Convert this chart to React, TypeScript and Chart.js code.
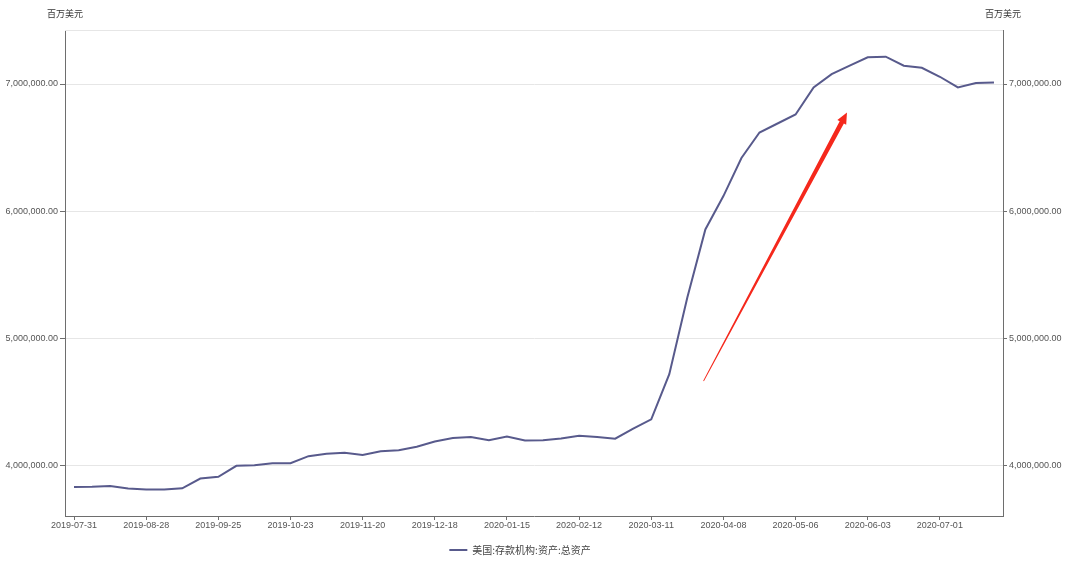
import React, { useEffect, useRef } from "react";
import { Chart, registerables } from "chart.js";

Chart.register(...registerables);

const DATES: string[] = [
  "2019-07-31", "2019-08-07", "2019-08-14", "2019-08-21", "2019-08-28",
  "2019-09-04", "2019-09-11", "2019-09-18", "2019-09-25", "2019-10-02",
  "2019-10-09", "2019-10-16", "2019-10-23", "2019-10-30", "2019-11-06",
  "2019-11-13", "2019-11-20", "2019-11-27", "2019-12-04", "2019-12-11",
  "2019-12-18", "2019-12-25", "2020-01-01", "2020-01-08", "2020-01-15",
  "2020-01-22", "2020-01-29", "2020-02-05", "2020-02-12", "2020-02-19",
  "2020-02-26", "2020-03-04", "2020-03-11", "2020-03-18", "2020-03-25",
  "2020-04-01", "2020-04-08", "2020-04-15", "2020-04-22", "2020-04-29",
  "2020-05-06", "2020-05-13", "2020-05-20", "2020-05-27", "2020-06-03",
  "2020-06-10", "2020-06-17", "2020-06-24", "2020-07-01", "2020-07-08",
  "2020-07-15", "2020-07-22",
];

const TOTAL_ASSETS: number[] = [
  3829000, 3830000, 3837000, 3816000, 3808000,
  3808000, 3818000, 3895000, 3908000, 3995000,
  4000000, 4016000, 4016000, 4071000, 4089000,
  4097000, 4081000, 4110000, 4118000, 4145000,
  4187000, 4213000, 4221000, 4197000, 4226000,
  4195000, 4197000, 4210000, 4231000, 4221000,
  4208000, 4287000, 4361000, 4716000, 5320000,
  5855000, 6118000, 6418000, 6618000, 6689000,
  6760000, 6973000, 7078000, 7144000, 7210000,
  7215000, 7144000, 7128000, 7057000, 6973000,
  7007000, 7012000,
];

const SERIES_NAME = "美国:存款机构:资产:总资产";
const UNIT_LABEL = "百万美元";
const Y_TICKS: number[] = [4000000, 5000000, 6000000, 7000000];
const Y_MIN = 3600000;
const Y_MAX = 7425000;
const X_LABEL_EVERY = 4;

// Red annotation arrow, in data coordinates (category index, value)
const ARROW_FROM = { index: 34.9, value: 4663000 };
const ARROW_TO = { index: 42.85, value: 6775000 };

const LINE_COLOR = "#585a8c";
const TEXT_COLOR = "#555";
const AXIS_COLOR = "#6e6e6e";
const GRID_COLOR = "#e6e6e6";
const FONT_FAMILY = '"Noto Sans CJK SC", "Liberation Sans", sans-serif';
const TICK_FONT_FAMILY = '"Liberation Sans", "Noto Sans", sans-serif';
const LEGEND_SHIFT = -20;

const fmt = (v: number) =>
  v.toLocaleString("en-US", { minimumFractionDigits: 2, maximumFractionDigits: 2 });

const decorPlugin = {
  id: "decor",
  afterLayout(chart: any) {
    const lg = chart.legend;
    if (lg) {
      lg.left += LEGEND_SHIFT;
      lg.right += LEGEND_SHIFT;
    }
  },
  beforeDatasetsDraw(chart: any) {
    const { ctx, chartArea } = chart;
    ctx.save();
    ctx.strokeStyle = GRID_COLOR;
    ctx.lineWidth = 1;
    ctx.beginPath();
    ctx.moveTo(chartArea.left, Math.round(chartArea.top) + 0.5);
    ctx.lineTo(chartArea.right, Math.round(chartArea.top) + 0.5);
    ctx.stroke();
    ctx.restore();
  },
  afterDraw(chart: any) {
    const { ctx, chartArea, scales } = chart;
    ctx.save();
    // unit titles above both axes
    ctx.fillStyle = "#333";
    ctx.font = `9px ${FONT_FAMILY}`;
    ctx.textAlign = "center";
    ctx.textBaseline = "middle";
    ctx.fillText(UNIT_LABEL, chartArea.left, 14);
    ctx.fillText(UNIT_LABEL, chartArea.right, 14);

    // red arrow annotation
    const x = scales.x;
    const y = scales.y;
    const x0 = x.getPixelForValue(ARROW_FROM.index);
    const y0 = y.getPixelForValue(ARROW_FROM.value);
    const x1 = x.getPixelForValue(ARROW_TO.index);
    const y1 = y.getPixelForValue(ARROW_TO.value);
    const dx = x1 - x0;
    const dy = y1 - y0;
    const len = Math.sqrt(dx * dx + dy * dy);
    const ux = dx / len;
    const uy = dy / len;
    const nx = -uy;
    const ny = ux;
    const headLen = 11;
    const headW = 5;
    const shaftStart = 0.4;
    const shaftEnd = 2.4;
    const bx = x1 - ux * headLen;
    const by = y1 - uy * headLen;
    ctx.fillStyle = "#f5281c";
    ctx.beginPath();
    ctx.moveTo(x0 + nx * shaftStart, y0 + ny * shaftStart);
    ctx.lineTo(bx + nx * shaftEnd, by + ny * shaftEnd);
    ctx.lineTo(bx + nx * headW, by + ny * headW);
    ctx.lineTo(x1, y1);
    ctx.lineTo(bx - nx * headW, by - ny * headW);
    ctx.lineTo(bx - nx * shaftEnd, by - ny * shaftEnd);
    ctx.lineTo(x0 - nx * shaftStart, y0 - ny * shaftStart);
    ctx.closePath();
    ctx.fill();
    ctx.restore();
  },
};

export default function App() {
  const canvasRef = useRef<HTMLCanvasElement>(null);

  useEffect(() => {
    document.body.style.margin = "0";
    const canvas = canvasRef.current;
    if (!canvas) return;
    const tickFont = { family: TICK_FONT_FAMILY, size: 9 };
    const chart = new Chart(canvas, {
      type: "line",
      data: {
        labels: DATES,
        datasets: [
          {
            label: SERIES_NAME,
            data: TOTAL_ASSETS,
            borderColor: LINE_COLOR,
            backgroundColor: LINE_COLOR,
            borderWidth: 2,
            pointRadius: 0,
            pointHoverRadius: 0,
            tension: 0,
            fill: false,
            yAxisID: "y",
          },
        ],
      },
      options: {
        animation: false,
        responsive: true,
        maintainAspectRatio: false,
        layout: { padding: { top: 30, bottom: 0, left: 0, right: 0 } },
        plugins: {
          legend: {
            position: "bottom",
            labels: {
              boxWidth: 18,
              boxHeight: 2,
              padding: 10,
              color: "#444",
              font: { family: FONT_FAMILY, size: 10 },
              generateLabels: (c: any) =>
                c.data.datasets.map((ds: any, i: number) => ({
                  text: ds.label,
                  fillStyle: ds.borderColor,
                  strokeStyle: ds.borderColor,
                  lineWidth: 0,
                  fontColor: "#444",
                  hidden: false,
                  datasetIndex: i,
                })),
            },
          },
          tooltip: { enabled: false },
        },
        scales: {
          x: {
            type: "category",
            offset: true,
            grid: {
              drawOnChartArea: false,
              drawTicks: true,
              tickLength: 4,
              color: AXIS_COLOR,
              offset: false,
            },
            border: { display: true, color: AXIS_COLOR, width: 1 },
            ticks: {
              autoSkip: false,
              maxRotation: 0,
              minRotation: 0,
              padding: 0,
              color: TEXT_COLOR,
              font: tickFont,
            },
            afterBuildTicks: (s: any) => {
              s.ticks = s.ticks.filter((_t: any, i: number) => i % X_LABEL_EVERY === 0);
            },
            afterFit: (s: any) => {
              s.height = 19;
            },
          },
          y: {
            type: "linear",
            position: "left",
            min: Y_MIN,
            max: Y_MAX,
            grid: {
              color: GRID_COLOR,
              tickColor: AXIS_COLOR,
              tickLength: 5,
              drawTicks: true,
            },
            border: { display: true, color: AXIS_COLOR, width: 1 },
            ticks: {
              color: TEXT_COLOR,
              font: tickFont,
              padding: 2,
              callback: (v: any) => fmt(Number(v)),
            },
            afterBuildTicks: (s: any) => {
              s.ticks = Y_TICKS.map((v) => ({ value: v }));
            },
            afterFit: (s: any) => {
              s.width = 65;
            },
          },
          y2: {
            type: "linear",
            position: "right",
            min: Y_MIN,
            max: Y_MAX,
            grid: {
              drawOnChartArea: false,
              tickColor: AXIS_COLOR,
              tickLength: 4,
              drawTicks: true,
            },
            border: { display: true, color: AXIS_COLOR, width: 1 },
            ticks: {
              color: TEXT_COLOR,
              font: tickFont,
              padding: 2,
              callback: (v: any) => fmt(Number(v)),
            },
            afterBuildTicks: (s: any) => {
              s.ticks = Y_TICKS.map((v) => ({ value: v }));
            },
            afterFit: (s: any) => {
              s.width = 77;
            },
          },
        },
      } as any,
      plugins: [decorPlugin],
    });
    return () => chart.destroy();
  }, []);

  return (
    <div style={{ position: "relative", width: 1080, height: 565, background: "#fff" }}>
      <canvas ref={canvasRef} />
    </div>
  );
}
